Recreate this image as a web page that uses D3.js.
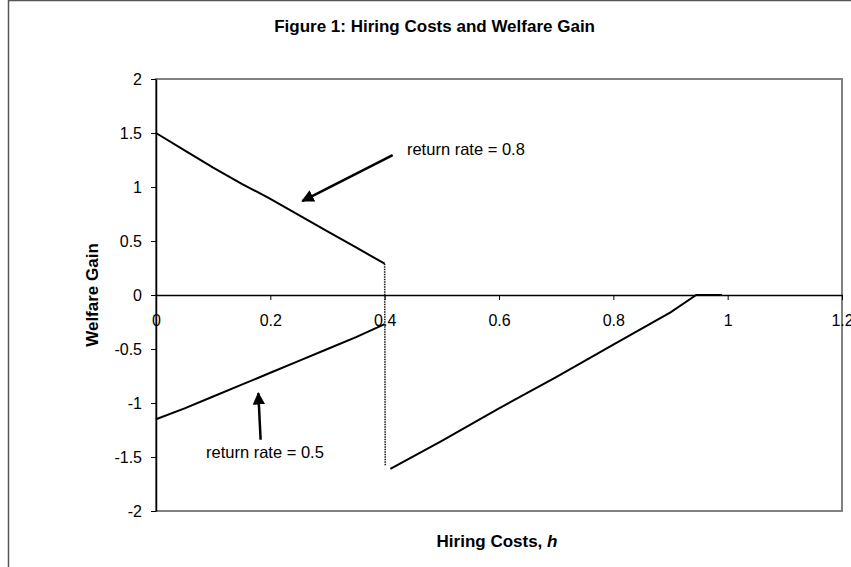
<!DOCTYPE html>
<html>
<head>
<meta charset="utf-8">
<script src="https://cdn.jsdelivr.net/npm/d3@7"></script>
<style>
  body { margin: 0; background: #fff; }
  text { font-family: "Liberation Sans", Arial, sans-serif; fill: #000; }
</style>
</head>
<body>
<div id="chart"></div>
<script>
// hiring costs h and welfare gain
const hLeft = [0, 0.05, 0.1, 0.15, 0.2, 0.25, 0.3, 0.35, 0.4];
const gain08 = [1.5, 1.34, 1.18, 1.03, 0.89, 0.74, 0.59, 0.44, 0.29];
const gain05 = [-1.15, -1.05, -0.94, -0.83, -0.72, -0.61, -0.5, -0.39, -0.27];
const hRight = [0.41, 0.5, 0.6, 0.7, 0.8, 0.9, 0.945, 0.99];
const gainRight = [-1.61, -1.35, -1.05, -0.76, -0.46, -0.16, 0, 0];

const xTicks = [0, 0.2, 0.4, 0.6, 0.8, 1, 1.2];
const yTicks = [-2, -1.5, -1, -0.5, 0, 0.5, 1, 1.5, 2];

// annotations: label, text position, arrow tail, arrow head (data units)
const notes = [
  { label: "return rate = 0.8", text: [0.439, 1.296], tail: [0.414, 1.295], head: [0.256, 0.87] },
  { label: "return rate = 0.5", text: [0.0875, -1.509], tail: [0.183, -1.34], head: [0.179, -0.91] }
];

const width = 851, height = 567;
const padL = 156, padR = 842, padT = 79, padB = 511;

const x = d3.scaleLinear().domain([0, 1.2]).range([padL, padR]);
const y = d3.scaleLinear().domain([-2, 2]).range([padB, padT]);

const svg = d3.select("#chart").append("svg")
  .attr("width", width)
  .attr("height", height);

// outer chart frame (cropped on right and bottom)
svg.append("rect")
  .attr("x", 8.5).attr("y", 0.5)
  .attr("width", 900).attr("height", 700)
  .attr("fill", "none")
  .attr("stroke", "#555")
  .attr("stroke-width", 1.5);

// plot area border
svg.append("rect")
  .attr("x", padL).attr("y", padT)
  .attr("width", padR - padL).attr("height", padB - padT)
  .attr("fill", "none")
  .attr("stroke", "#808080")
  .attr("stroke-width", 2);

svg.append("text")
  .attr("x", 595).attr("y", 32)
  .attr("text-anchor", "end")
  .style("font-size", "17px")
  .style("font-weight", "bold")
  .text("Figure 1: Hiring Costs and Welfare Gain");

// y axis
const yAxis = svg.append("g")
  .attr("transform", `translate(${padL},0)`)
  .call(d3.axisLeft(y).tickValues(yTicks).tickSize(5).tickSizeOuter(0).tickPadding(9)
    .tickFormat(d => String(d)));
yAxis.select(".domain").attr("stroke", "#000").attr("stroke-width", 1.5);
yAxis.selectAll(".tick line").attr("stroke", "#000");
yAxis.selectAll("text")
  .style("font-size", "16px")
  .style("font-family", "\"Liberation Sans\", Arial, sans-serif")
  .attr("fill", "#000");

// x axis crossing at zero
const xAxis = svg.append("g")
  .attr("transform", `translate(0,${y(0)})`)
  .call(d3.axisBottom(x).tickValues(xTicks).tickSize(5).tickSizeOuter(0).tickPadding(15)
    .tickFormat(d => String(d)));
xAxis.select(".domain").attr("stroke", "#000").attr("stroke-width", 1.5);
xAxis.selectAll(".tick line").attr("stroke", "#000");
xAxis.selectAll("text")
  .style("font-size", "16px")
  .style("font-family", "\"Liberation Sans\", Arial, sans-serif")
  .attr("fill", "#000");

svg.append("text")
  .attr("transform", `translate(98,${(padT + padB) / 2}) rotate(-90)`)
  .attr("text-anchor", "middle")
  .style("font-size", "17px")
  .style("font-weight", "bold")
  .text("Welfare Gain");

const xLabel = svg.append("text")
  .attr("x", 497).attr("y", 547)
  .attr("text-anchor", "middle")
  .style("font-size", "17px")
  .style("font-weight", "bold");
xLabel.append("tspan").text("Hiring Costs, ");
xLabel.append("tspan").style("font-style", "italic").text("h");

const line = d3.line().x(d => x(d[0])).y(d => y(d[1]));

const upper = hLeft.map((h, i) => [h, gain08[i]]);
const lower = hLeft.map((h, i) => [h, gain05[i]]);
const after = hRight.map((h, i) => [h, gainRight[i]]);

// steep drop at h = 0.4 looks dotted in the original
svg.append("path")
  .attr("d", line([upper[upper.length - 1], [hLeft[hLeft.length - 1] + 0.001, gainRight[0] + 0.03]]))
  .attr("fill", "none")
  .attr("stroke", "#222")
  .attr("stroke-width", 1.6)
  .attr("stroke-dasharray", "1.5,1");

[upper, lower, after].forEach(pts => {
  svg.append("path")
    .attr("d", line(pts))
    .attr("fill", "none")
    .attr("stroke", "#000")
    .attr("stroke-width", 2);
});

svg.append("defs").append("marker")
  .attr("id", "head")
  .attr("viewBox", "0 0 10 10")
  .attr("refX", 9).attr("refY", 5)
  .attr("markerWidth", 5).attr("markerHeight", 5)
  .attr("orient", "auto")
  .attr("markerUnits", "strokeWidth")
  .append("path")
  .attr("d", "M0,0 L10,5 L0,10 z")
  .attr("fill", "#000");

notes.forEach(n => {
  svg.append("line")
    .attr("x1", x(n.tail[0])).attr("y1", y(n.tail[1]))
    .attr("x2", x(n.head[0])).attr("y2", y(n.head[1]))
    .attr("stroke", "#000")
    .attr("stroke-width", 2.5)
    .attr("marker-end", "url(#head)");
  svg.append("text")
    .attr("x", x(n.text[0])).attr("y", y(n.text[1]))
    .style("font-size", "16.5px")
    .text(n.label);
});
</script>
</body>
</html>
